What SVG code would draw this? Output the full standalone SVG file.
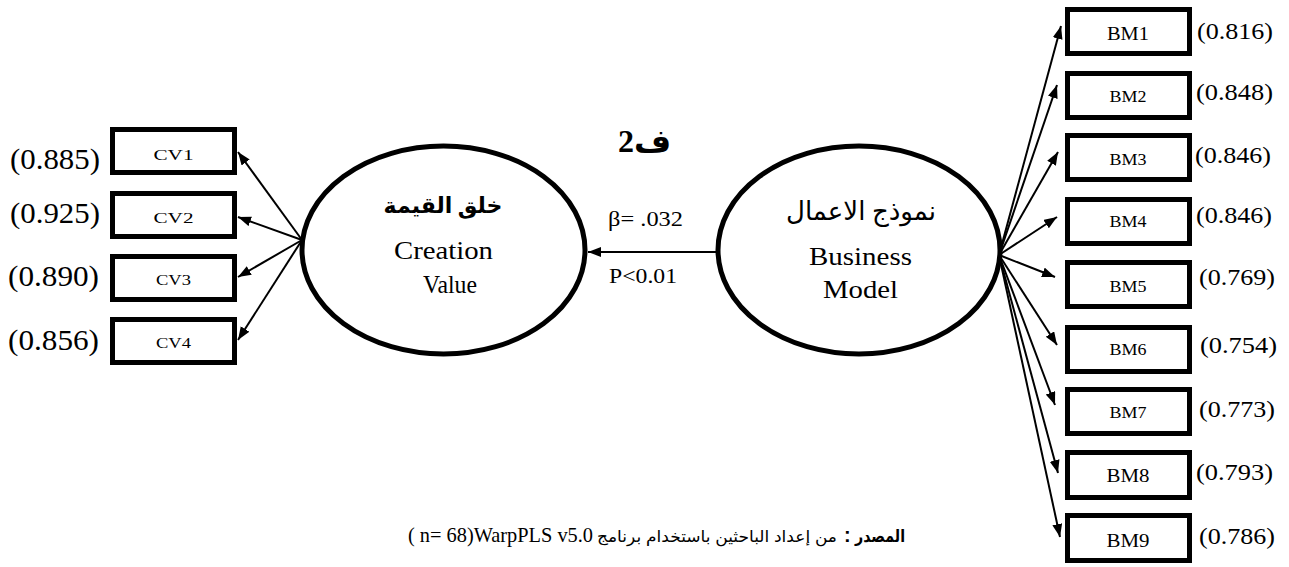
<svg xmlns="http://www.w3.org/2000/svg" width="1289" height="567" viewBox="0 0 1289 567">
<style>
.box{fill:#fff;stroke:#000;stroke-width:5}
.ell{fill:#fff;stroke:#000;stroke-width:5}
.ln{stroke:#000;stroke-width:2;fill:none}
.t{font-family:"Liberation Serif","DejaVu Serif","DejaVu Sans",serif;fill:#000}
.ar{font-family:"Liberation Serif","DejaVu Sans",serif;fill:#000}
.s{font-family:"Liberation Sans","DejaVu Sans",sans-serif;fill:#000}
.m{text-anchor:middle}
</style>
<defs>
<marker id="ah" markerUnits="userSpaceOnUse" markerWidth="14" markerHeight="11" refX="13" refY="5" orient="auto">
<path d="M0,0 L13,5 L0,10 z" fill="#000"/>
</marker>
</defs>
<rect width="1289" height="567" fill="#fff"/>

<g id="connectors">
<line class="ln" x1="302" y1="240" x2="238" y2="152" marker-end="url(#ah)"/>
<line class="ln" x1="302" y1="240" x2="238" y2="217" marker-end="url(#ah)"/>
<line class="ln" x1="302" y1="240" x2="238" y2="277" marker-end="url(#ah)"/>
<line class="ln" x1="302" y1="240" x2="238" y2="340" marker-end="url(#ah)"/>
<line class="ln" x1="717" y1="252" x2="588" y2="252" marker-end="url(#ah)"/>
<line class="ln" x1="999" y1="255" x2="1061" y2="26" marker-end="url(#ah)"/>
<line class="ln" x1="999" y1="255" x2="1057" y2="85" marker-end="url(#ah)"/>
<line class="ln" x1="999" y1="255" x2="1058" y2="152" marker-end="url(#ah)"/>
<line class="ln" x1="999" y1="255" x2="1057" y2="217" marker-end="url(#ah)"/>
<line class="ln" x1="999" y1="255" x2="1055" y2="277" marker-end="url(#ah)"/>
<line class="ln" x1="999" y1="255" x2="1057" y2="345" marker-end="url(#ah)"/>
<line class="ln" x1="999" y1="255" x2="1055" y2="405" marker-end="url(#ah)"/>
<line class="ln" x1="999" y1="255" x2="1058" y2="473" marker-end="url(#ah)"/>
<line class="ln" x1="999" y1="255" x2="1060" y2="537" marker-end="url(#ah)"/>
</g>

<g id="CV">
<ellipse class="ell" cx="443.5" cy="250" rx="141.5" ry="104"/>
<text class="ar m" x="443" y="213" font-size="22" font-weight="bold">خلق القيمة</text>
<text class="t m" x="443.5" y="259" font-size="26" textLength="99" lengthAdjust="spacingAndGlyphs">Creation</text>
<text class="t m" x="450" y="293" font-size="26" textLength="54" lengthAdjust="spacingAndGlyphs">Value</text>
</g>

<g id="BM">
<ellipse class="ell" cx="859" cy="250" rx="141" ry="104"/>
<text class="ar m" x="861" y="220" font-size="26">نموذج الاعمال</text>
<text class="t m" x="860.5" y="265" font-size="26" textLength="103" lengthAdjust="spacingAndGlyphs">Business</text>
<text class="t m" x="860.5" y="298" font-size="26" textLength="75" lengthAdjust="spacingAndGlyphs">Model</text>
</g>

<g id="path-label">
<text class="ar" x="618" y="152" font-size="32" font-weight="bold">ف2</text>
<text class="t" x="608" y="226" font-size="21" textLength="75" lengthAdjust="spacingAndGlyphs">β= .032</text>
<text class="t" x="609" y="283" font-size="21" textLength="68" lengthAdjust="spacingAndGlyphs">P&lt;0.01</text>
</g>

<g id="CV1"><rect class="box" x="112.5" y="129.5" width="122" height="43"/><text class="t m" x="173.5" y="160" font-size="15" textLength="40" lengthAdjust="spacingAndGlyphs">CV1</text><text class="t" x="10" y="169" font-size="30" textLength="90" lengthAdjust="spacingAndGlyphs">(0.885)</text></g>
<g id="CV2"><rect class="box" x="112.5" y="193.5" width="122" height="43"/><text class="t m" x="173.5" y="223" font-size="15" textLength="40" lengthAdjust="spacingAndGlyphs">CV2</text><text class="t" x="10" y="223" font-size="30" textLength="90" lengthAdjust="spacingAndGlyphs">(0.925)</text></g>
<g id="CV3"><rect class="box" x="112.5" y="256.5" width="122" height="43"/><text class="t m" x="173.5" y="285" font-size="15" textLength="35" lengthAdjust="spacingAndGlyphs">CV3</text><text class="t" x="8" y="286" font-size="30" textLength="91" lengthAdjust="spacingAndGlyphs">(0.890)</text></g>
<g id="CV4"><rect class="box" x="112.5" y="319.5" width="122" height="43"/><text class="t m" x="173.5" y="348" font-size="15" textLength="35" lengthAdjust="spacingAndGlyphs">CV4</text><text class="t" x="8" y="350" font-size="30" textLength="91" lengthAdjust="spacingAndGlyphs">(0.856)</text></g>

<g id="BM1"><rect class="box" x="1067.5" y="9.5" width="122" height="44"/><text class="t m" x="1128" y="40" font-size="19" textLength="42" lengthAdjust="spacingAndGlyphs">BM1</text><text class="t" x="1197" y="39" font-size="24" textLength="76" lengthAdjust="spacingAndGlyphs">(0.816)</text></g>
<g id="BM2"><rect class="box" x="1067.5" y="73.5" width="122" height="44"/><text class="t m" x="1128" y="102" font-size="17" textLength="37" lengthAdjust="spacingAndGlyphs">BM2</text><text class="t" x="1196" y="100" font-size="24" textLength="77" lengthAdjust="spacingAndGlyphs">(0.848)</text></g>
<g id="BM3"><rect class="box" x="1067.5" y="135.5" width="122" height="44"/><text class="t m" x="1128" y="165" font-size="17" textLength="37" lengthAdjust="spacingAndGlyphs">BM3</text><text class="t" x="1195" y="163" font-size="24" textLength="76" lengthAdjust="spacingAndGlyphs">(0.846)</text></g>
<g id="BM4"><rect class="box" x="1067.5" y="199.5" width="122" height="44"/><text class="t m" x="1128" y="227" font-size="17" textLength="37" lengthAdjust="spacingAndGlyphs">BM4</text><text class="t" x="1196" y="223" font-size="24" textLength="76" lengthAdjust="spacingAndGlyphs">(0.846)</text></g>
<g id="BM5"><rect class="box" x="1067.5" y="262.5" width="122" height="44"/><text class="t m" x="1128" y="292" font-size="17" textLength="37" lengthAdjust="spacingAndGlyphs">BM5</text><text class="t" x="1199" y="285" font-size="24" textLength="76" lengthAdjust="spacingAndGlyphs">(0.769)</text></g>
<g id="BM6"><rect class="box" x="1067.5" y="327.5" width="122" height="44"/><text class="t m" x="1128" y="355" font-size="17" textLength="37" lengthAdjust="spacingAndGlyphs">BM6</text><text class="t" x="1200" y="353" font-size="24" textLength="77" lengthAdjust="spacingAndGlyphs">(0.754)</text></g>
<g id="BM7"><rect class="box" x="1067.5" y="389.5" width="122" height="44"/><text class="t m" x="1128" y="418" font-size="17" textLength="37" lengthAdjust="spacingAndGlyphs">BM7</text><text class="t" x="1199" y="417" font-size="24" textLength="76" lengthAdjust="spacingAndGlyphs">(0.773)</text></g>
<g id="BM8"><rect class="box" x="1067.5" y="452.5" width="122" height="45"/><text class="t m" x="1128" y="482" font-size="19" textLength="43" lengthAdjust="spacingAndGlyphs">BM8</text><text class="t" x="1196" y="480" font-size="24" textLength="77" lengthAdjust="spacingAndGlyphs">(0.793)</text></g>
<g id="BM9"><rect class="box" x="1067.5" y="515.5" width="122" height="45"/><text class="t m" x="1128" y="547" font-size="19" textLength="43" lengthAdjust="spacingAndGlyphs">BM9</text><text class="t" x="1199" y="544" font-size="24" textLength="76" lengthAdjust="spacingAndGlyphs">(0.786)</text></g>

<g id="source">
<text class="t" x="408" y="542" font-size="21" textLength="185" lengthAdjust="spacingAndGlyphs">( n= 68)WarpPLS v5.0</text>
<text class="s" x="597" y="542" font-size="16" textLength="240" lengthAdjust="spacingAndGlyphs">من إعداد الباحثين باستخدام برنامج</text>
<text class="s" x="844" y="542" font-size="20" font-weight="bold">:</text>
<text class="s" x="855" y="542" font-size="17" font-weight="bold" textLength="50" lengthAdjust="spacingAndGlyphs">المصدر</text>
</g>
</svg>
